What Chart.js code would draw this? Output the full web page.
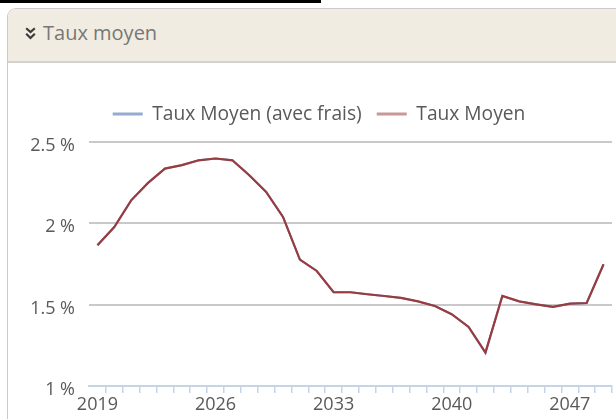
<!DOCTYPE html>
<html>
<head>
<meta charset="utf-8">
<script src="https://cdn.jsdelivr.net/npm/chart.js@4.4.1/dist/chart.umd.min.js"></script>
<style>
  html, body { margin: 0; padding: 0; background: #fff; width: 616px; height: 419px; overflow: hidden; }
  #bar { position: absolute; left: 0; top: 0; width: 321px; height: 3px; background: #000; }
  #panel { position: absolute; left: 7px; top: 8px; width: 640px; height: 440px; border: 1px solid #cbcbcb; border-right: none; border-top-left-radius: 9px; background: #fff; overflow: hidden; }
  #head { position: absolute; left: 0; top: 0; right: 0; height: 52px; background: #f1ece1; border-bottom: 2px solid #d3d3d3; }
  #title { position: absolute; left: 35px; top: 10px; font-family: "Open Sans", sans-serif; font-size: 20px; color: #777; }
  #icon { position: absolute; left: 17px; top: 18px; }
  #wrap { position: absolute; left: 0; top: 0; width: 616px; height: 419px; }
</style>
</head>
<body>
<div id="bar"></div>
<div id="panel">
  <div id="head">
    <svg id="icon" width="11" height="13" viewBox="0 0 11 13">
      <polyline points="1.2,1.2 5.5,5 9.8,1.2" fill="none" stroke="#3a3a3a" stroke-width="2.2"/>
      <polyline points="1.2,6.8 5.5,11 9.8,6.8" fill="none" stroke="#3a3a3a" stroke-width="2.2"/>
    </svg>
    <div id="title">Taux moyen</div>
  </div>
</div>
<div id="wrap"><canvas id="c" width="616" height="419"></canvas></div>
<script>
const years = ['2019','2020','2021','2022','2023','2024','2025','2026','2027','2028','2029','2030','2031','2032','2033','2034','2035','2036','2037','2038','2039','2040','2041','2042','2043','2044','2045','2046','2047','2048','2049'];
const tauxMoyen = [1.865, 1.977, 2.141, 2.248, 2.336, 2.357, 2.387, 2.398, 2.387, 2.295, 2.193, 2.039, 1.777, 1.707, 1.576, 1.576, 1.564, 1.553, 1.541, 1.520, 1.492, 1.441, 1.363, 1.205, 1.553, 1.520, 1.502, 1.486, 1.506, 1.510, 1.748];
const tauxMoyenAvecFrais = [1.865, 1.977, 2.141, 2.248, 2.336, 2.357, 2.387, 2.398, 2.387, 2.295, 2.193, 2.039, 1.777, 1.707, 1.576, 1.576, 1.564, 1.553, 1.541, 1.520, 1.492, 1.441, 1.363, 1.205, 1.553, 1.520, 1.502, 1.486, 1.506, 1.510, 1.748];
const seriesNames = ['Taux Moyen (avec frais)', 'Taux Moyen'];
const yTicks = [1, 1.5, 2, 2.5];

const FONT = '"Open Sans", sans-serif';
const legendColors = ['#93acd0', '#c99797'];

const legendSpace = {
  id: 'legendSpace',
  beforeUpdate(chart) {
    const lg = chart.legend;
    if (lg && !lg._patched) {
      const f = lg.fit;
      lg.fit = function () { f.call(this); this.height += 8.2; };
      lg._patched = true;
    }
  }
};

new Chart(document.getElementById('c'), {
  type: 'line',
  data: {
    labels: years,
    datasets: [
      { label: seriesNames[0], data: tauxMoyenAvecFrais, borderColor: '#7f9cc8', backgroundColor: '#7f9cc8', borderWidth: 2, pointRadius: 0, tension: 0, order: 2 },
      { label: seriesNames[1], data: tauxMoyen, borderColor: '#983c40', backgroundColor: '#983c40', borderWidth: 2.2, pointRadius: 0, tension: 0, order: 1 }
    ]
  },
  options: {
    responsive: false,
    animation: false,
    layout: { padding: { top: 89.5, left: 26, right: 4, bottom: 0 } },
    plugins: {
      legend: {
        position: 'top',
        labels: {
          font: { family: FONT, size: 19.2 },
          color: '#595959',
          boxWidth: 30,
          boxHeight: 3,
          padding: 15,
          generateLabels(chart) {
            return chart.data.datasets.map((ds, i) => ({
              text: ds.label, fillStyle: legendColors[i], strokeStyle: legendColors[i], lineWidth: 0, hidden: false, datasetIndex: i, fontColor: '#595959'
            }));
          }
        }
      },
      tooltip: { enabled: false }
    },
    scales: {
      x: {
        type: 'category',
        offset: true,
        afterFit(s) { s.height = 33; },
        grid: {
          offset: true, drawOnChartArea: false, drawTicks: true, tickLength: 7,
          color: (c) => c.index === 0 ? 'rgba(0,0,0,0)' : '#c5d4e6', lineWidth: 1.5
        },
        border: { display: true, color: '#c5d4e6', width: 2 },
        ticks: {
          autoSkip: false, maxRotation: 0, minRotation: 0, padding: 1.5,
          font: { family: FONT, size: 18 }, color: '#595959',
          callback(v, i) { return i % 7 === 0 ? years[i] : ''; }
        }
      },
      y: {
        min: yTicks[0], max: yTicks[yTicks.length - 1],
        afterFit(s) { s.width = 63; },
        afterBuildTicks(s) { s.ticks = yTicks.map(v => ({ value: v })); },
        grid: { drawTicks: false, color: (c) => c.tick && c.tick.value === 1 ? 'rgba(0,0,0,0)' : '#c9c9c9', lineWidth: 2 },
        border: { display: false },
        ticks: {
          padding: 14, labelOffset: 4,
          font: { family: FONT, size: 18 }, color: '#595959',
          callback(v) { return v + ' %'; }
        }
      }
    }
  },
  plugins: [legendSpace]
});
</script>
</body>
</html>
